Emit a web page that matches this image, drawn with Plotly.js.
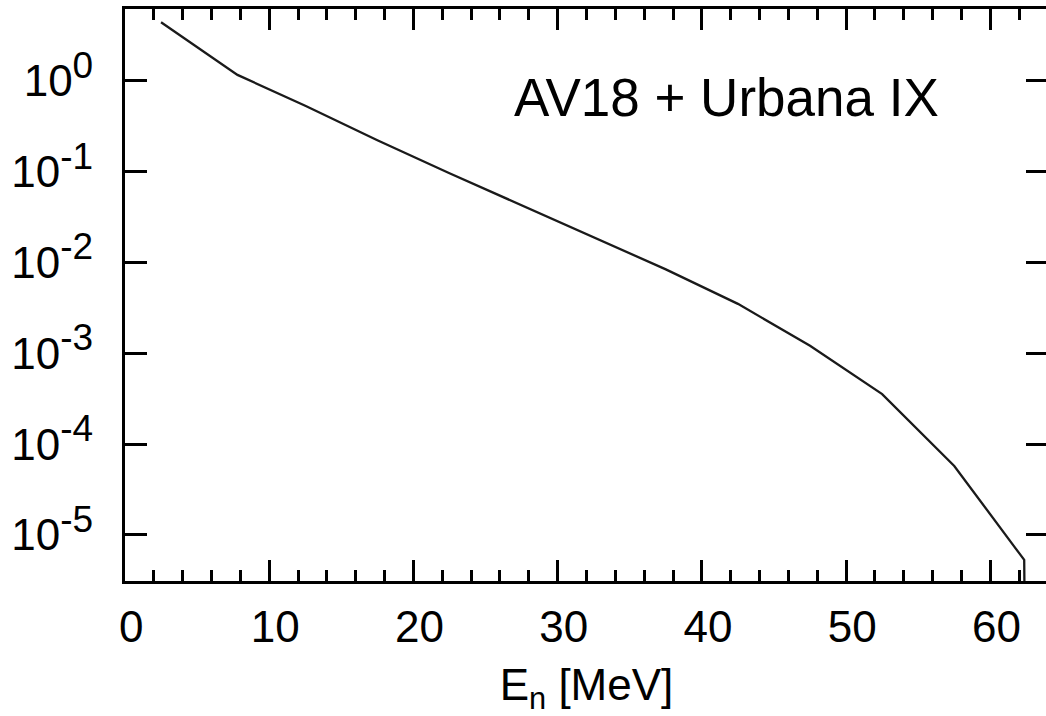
<!DOCTYPE html>
<html>
<head>
<meta charset="utf-8">
<script src="https://cdn.plot.ly/plotly-3.0.1.min.js"></script>
<style>
html,body{margin:0;padding:0;overflow:hidden;background:#fff;}
#chart{width:1050px;height:716px;}
</style>
</head>
<body>
<div id="chart"></div>
<script>
// Neutron energy spectrum, AV18 + Urbana IX
const energyMeV = [2.5, 7.8, 12.5, 17.5, 22.5, 27.5, 32.5, 37.5, 42.5, 47.5, 52.5, 57.5, 62.35, 62.45];
const spectrum  = [4.41, 1.16, 0.530, 0.221, 0.0959, 0.0426, 0.0189, 0.00839, 0.00350, 0.00121, 3.55e-4, 5.75e-5, 5.31e-6, 1e-7];
const xTickVals = [0, 10, 20, 30, 40, 50, 60];
const xTickText = ['\u00a00', '\u00a010', '\u00a020', '\u00a030', '\u00a040', '\u00a050', '\u00a060'];
const yTickVals = [1, 0.1, 0.01, 0.001, 0.0001, 0.00001];
const yTickExp  = ['0', '-1', '-2', '-3', '-4', '-5'];
const yTickText = yTickExp.map(e => '10<sup><span style="font-size:37px">' + e + '</span></sup>');
const labelText = 'AV18 + Urbana IX';
const xTitle = '\u00a0E<sub>n</sub> [MeV]';

const font = {family: '"Liberation Sans", Arial, sans-serif', color: '#000'};

const trace = {
  x: energyMeV, y: spectrum, type: 'scatter', mode: 'lines',
  line: {color: '#1a1a1a', width: 2.3}, hoverinfo: 'skip'
};

const layout = {
  width: 1050, height: 716,
  margin: {l: 125, r: 2, t: 9, b: 135},
  paper_bgcolor: '#fff', plot_bgcolor: '#fff',
  showlegend: false,
  font: Object.assign({size: 44}, font),
  xaxis: {
    range: [0, 64], tickmode: 'array', tickvals: xTickVals, ticktext: xTickText,
    ticks: 'inside', ticklen: 21, tickwidth: 3, tickcolor: '#000',
    minor: {dtick: 2, ticks: 'inside', ticklen: 11, tickwidth: 3, tickcolor: '#000', showgrid: false},
    showline: true, linewidth: 3, linecolor: '#000', mirror: 'ticks',
    showgrid: false, zeroline: false,
    tickfont: Object.assign({size: 44}, font),
    ticklabelstandoff: 5,
    title: {text: xTitle, font: Object.assign({size: 44}, font), standoff: 30}
  },
  yaxis: {
    type: 'log', range: [-5.507, 0.79], tickmode: 'array', tickvals: yTickVals, ticktext: yTickText,
    ticks: 'inside', ticklen: 22, tickwidth: 3, tickcolor: '#000',
    showline: true, linewidth: 3, linecolor: '#000', mirror: 'ticks',
    showgrid: false, zeroline: false,
    tickfont: Object.assign({size: 44}, font),
    ticklabelstandoff: 20
  },
  annotations: [{
    text: labelText, xref: 'x', yref: 'paper', x: 26.8, y: 0.846,
    xanchor: 'left', yanchor: 'middle', showarrow: false,
    font: Object.assign({size: 53}, font)
  }]
};

Plotly.newPlot('chart', [trace], layout, {staticPlot: true, displayModeBar: false});
</script>
</body>
</html>
